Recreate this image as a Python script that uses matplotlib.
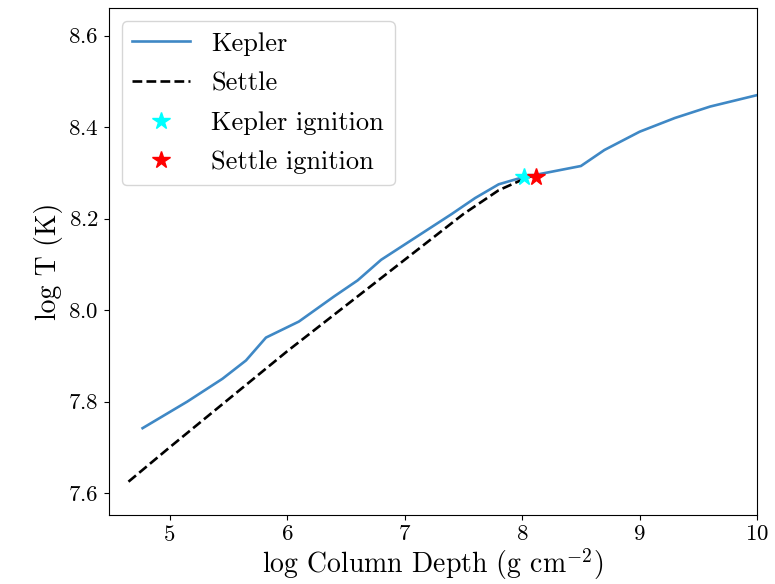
import numpy as np
import matplotlib
matplotlib.use("Agg")
import matplotlib.pyplot as plt

plt.rcParams['font.family'] = ['cmr10', 'DejaVu Serif']
plt.rcParams['mathtext.fontset'] = 'cm'
plt.rcParams['axes.formatter.use_mathtext'] = True

# %% data
kepler_x = [4.77, 5.15, 5.45, 5.65, 5.82, 6.1, 6.4, 6.6, 6.8, 7.1, 7.4, 7.6, 7.8,
            8.0, 8.2, 8.5, 8.7, 9.0, 9.3, 9.6, 10.0]
kepler_y = [7.742, 7.80, 7.85, 7.89, 7.94, 7.975, 8.03, 8.065, 8.11, 8.16, 8.21,
            8.245, 8.275, 8.29, 8.30, 8.315, 8.35, 8.39, 8.42, 8.445, 8.47]

settle_x = [4.65, 5.0, 5.5, 6.0, 6.5, 7.0, 7.5, 7.8, 8.0, 8.1]
settle_y = [7.625, 7.70, 7.805, 7.91, 8.01, 8.11, 8.21, 8.262, 8.285, 8.295]

kepler_ign = (8.02, 8.29)
settle_ign = (8.12, 8.29)

# %% plot
fig, ax = plt.subplots(figsize=(7.75, 5.84), dpi=100)
ax.plot(kepler_x, kepler_y, color='#3f88c5', lw=1.9, label='Kepler')
ax.plot(settle_x, settle_y, 'k--', lw=1.9, label='Settle')
ax.plot(*kepler_ign, '*', color='cyan', ms=13, ls='none', label='Kepler ignition')
ax.plot(*settle_ign, '*', color='red', ms=13, ls='none', label='Settle ignition')

ax.set_xlim(4.48, 10)
ax.set_ylim(7.552, 8.66)
ax.set_xticks([5, 6, 7, 8, 9, 10])
ax.set_yticks([7.6, 7.8, 8.0, 8.2, 8.4, 8.6])
ax.tick_params(labelsize=16.5)
ax.set_xlabel(r'log Column Depth (g cm$^{-2}$)', fontsize=20, labelpad=1)
ax.set_ylabel('log T (K)', fontsize=20)
ax.legend(loc='upper left', fontsize=19, handlelength=2.2, labelspacing=0.6)

plt.subplots_adjust(left=0.14, right=0.977, top=0.986, bottom=0.118)
plt.savefig('out.png')
